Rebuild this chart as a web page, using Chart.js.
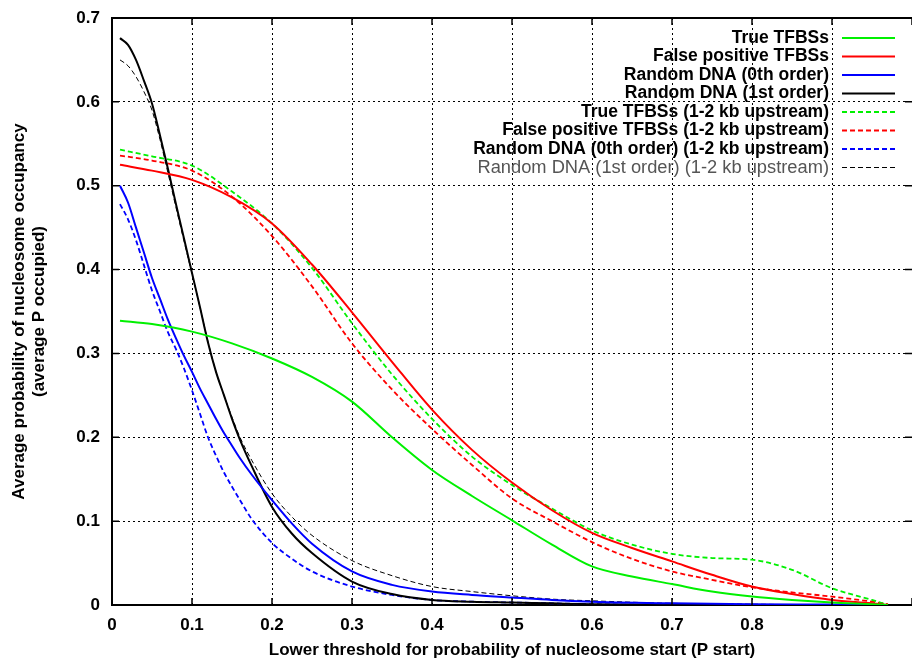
<!DOCTYPE html>
<html>
<head>
<meta charset="utf-8">
<title>Nucleosome occupancy vs P start threshold</title>
<script src="https://cdn.jsdelivr.net/npm/chart.js@4.4.1/dist/chart.umd.min.js"></script>
<style>
  html, body { margin: 0; padding: 0; background: #fff; }
</style>
</head>
<body>
<canvas id="chart" width="912" height="665"></canvas>
<script>
// ---- data ----
// threshold grid for the slowly falling curves
const xCoarse = [0.01, 0.05, 0.1, 0.15, 0.2, 0.25, 0.3, 0.35, 0.4, 0.45, 0.5,
                 0.55, 0.6, 0.65, 0.7, 0.75, 0.8, 0.85, 0.9, 0.95, 0.97];
// finer grid for the steep random DNA curves
const xFine = [0.01, 0.02, 0.03, 0.04, 0.05, 0.06, 0.07, 0.08, 0.09, 0.1, 0.11,
               0.12, 0.13, 0.14, 0.15, 0.16, 0.175, 0.2, 0.225, 0.25, 0.3, 0.35,
               0.4, 0.45, 0.5, 0.55, 0.6, 0.7, 0.8, 0.9, 0.97];

const trueTfbs = [0.339, 0.335, 0.326, 0.312, 0.294, 0.272, 0.2425, 0.2, 0.161, 0.13, 0.101,
                  0.072, 0.046, 0.034, 0.025, 0.016, 0.01, 0.006, 0.003, 0.001, 0];
const falsePos = [0.525, 0.518, 0.507, 0.486, 0.455, 0.406, 0.349, 0.29, 0.233, 0.185, 0.146,
                  0.113, 0.086, 0.068, 0.052, 0.036, 0.022, 0.013, 0.006, 0.002, 0];
const randDna0 = [0.5, 0.48, 0.45, 0.42, 0.39, 0.365, 0.34, 0.318, 0.297, 0.278, 0.258,
                  0.24, 0.222, 0.205, 0.19, 0.175, 0.155, 0.125, 0.097, 0.073, 0.04, 0.024,
                  0.016, 0.012, 0.009, 0.006, 0.004, 0.002, 0.001, 0.0005, 0];
const randDna1 = [0.676, 0.668, 0.65, 0.625, 0.598, 0.56, 0.52, 0.478, 0.437, 0.396, 0.355,
                  0.313, 0.278, 0.25, 0.222, 0.197, 0.165, 0.117, 0.085, 0.062, 0.028, 0.013,
                  0.006, 0.004, 0.003, 0.002, 0.001, 0.0005, 0, 0, 0];
const trueTfbsUp = [0.543, 0.535, 0.524, 0.493, 0.455, 0.402, 0.336, 0.275, 0.222, 0.177, 0.143,
                    0.115, 0.089, 0.072, 0.061, 0.056, 0.054, 0.042, 0.02, 0.006, 0];
const falsePosUp = [0.536, 0.53, 0.518, 0.487, 0.44, 0.38, 0.312, 0.257, 0.21, 0.167, 0.127,
                    0.1, 0.075, 0.055, 0.04, 0.03, 0.021, 0.015, 0.01, 0.004, 0.001];
const randDna0Up = [0.478, 0.46, 0.435, 0.405, 0.375, 0.35, 0.325, 0.305, 0.282, 0.256, 0.228,
                    0.2, 0.178, 0.158, 0.141, 0.125, 0.102, 0.074, 0.055, 0.04, 0.022, 0.012,
                    0.006, 0.004, 0.003, 0.002, 0.001, 0, 0, 0, 0];
const randDna1Up = [0.65, 0.643, 0.63, 0.612, 0.59, 0.555, 0.515, 0.474, 0.434, 0.395, 0.355,
                    0.314, 0.278, 0.25, 0.224, 0.2, 0.172, 0.133, 0.105, 0.083, 0.053, 0.035,
                    0.022, 0.016, 0.011, 0.007, 0.005, 0.002, 0.001, 0, 0];

const seriesLabels = [
    'True TFBSs',
    'False positive TFBSs',
    'Random DNA (0th order)',
    'Random DNA (1st order)',
    'True TFBSs (1-2 kb upstream)',
    'False positive TFBSs (1-2 kb upstream)',
    'Random DNA (0th order) (1-2 kb upstream)',
    'Random DNA (1st order) (1-2 kb upstream)'
];
const xTickMax = 0.9;

const FONT = 'Liberation Sans, Arial, Helvetica, sans-serif';

function pts(xs, ys) {
    return xs.map((x, i) => ({ x: x, y: ys[i] }));
}

function line(label, xs, ys, color, dashed, width) {
    return {
        label: label,
        data: pts(xs, ys),
        borderColor: color,
        backgroundColor: color,
        borderWidth: width,
        borderDash: dashed ? [5, 3] : [],
        pointRadius: 0,
        cubicInterpolationMode: 'monotone',
        fill: false
    };
}

// legend drawn gnuplot-style: text right aligned, line sample on the right
const keyPlugin = {
    id: 'gnuplotKey',
    afterDatasetsDraw(chart) {
        const ctx = chart.ctx;
        ctx.save();
        chart.data.datasets.forEach((ds, i) => {
            const y = 38 + i * 18.5;
            const last = i === chart.data.datasets.length - 1;
            ctx.font = (last ? 'normal 18.3px ' : 'bold 17.5px ') + FONT;
            ctx.fillStyle = last ? '#555' : '#000';
            ctx.textAlign = 'right';
            ctx.textBaseline = 'middle';
            ctx.fillText(ds.label, 829, y);
            ctx.strokeStyle = ds.borderColor;
            ctx.lineWidth = ds.borderWidth;
            ctx.setLineDash(ds.borderDash);
            ctx.beginPath();
            ctx.moveTo(842, y);
            ctx.lineTo(895, y);
            ctx.stroke();
        });
        ctx.restore();
    }
};

// frame on top and inward tick marks on all sides
const framePlugin = {
    id: 'frame',
    afterDraw(chart) {
        const { ctx, chartArea: a, scales } = chart;
        ctx.save();
        ctx.strokeStyle = '#000';
        ctx.setLineDash([]);
        ctx.lineWidth = 2;
        ctx.beginPath();
        ctx.moveTo(a.left, a.top);
        ctx.lineTo(a.right, a.top);
        ctx.stroke();
        ctx.lineWidth = 1.5;
        ctx.beginPath();
        scales.x.ticks.forEach(t => {
            const px = scales.x.getPixelForValue(t.value);
            ctx.moveTo(px, a.bottom); ctx.lineTo(px, a.bottom - 7);
            ctx.moveTo(px, a.top); ctx.lineTo(px, a.top + 7);
        });
        scales.y.ticks.forEach(t => {
            const py = scales.y.getPixelForValue(t.value);
            ctx.moveTo(a.left, py); ctx.lineTo(a.left + 7, py);
            ctx.moveTo(a.right, py); ctx.lineTo(a.right - 7, py);
        });
        ctx.stroke();
        ctx.restore();
    }
};

const ctx = document.getElementById('chart').getContext('2d');
new Chart(ctx, {
    type: 'line',
    data: {
        datasets: [
            line(seriesLabels[0], xCoarse, trueTfbs, '#00f000', false, 2),
            line(seriesLabels[1], xCoarse, falsePos, '#ff0000', false, 2),
            line(seriesLabels[2], xFine, randDna0, '#0000ff', false, 2),
            line(seriesLabels[3], xFine, randDna1, '#000000', false, 2),
            line(seriesLabels[4], xCoarse, trueTfbsUp, '#00f000', true, 1.8),
            line(seriesLabels[5], xCoarse, falsePosUp, '#ff0000', true, 1.8),
            line(seriesLabels[6], xFine, randDna0Up, '#0000ff', true, 1.8),
            line(seriesLabels[7], xFine, randDna1Up, '#000000', true, 1)
        ]
    },
    options: {
        responsive: false,
        animation: false,
        devicePixelRatio: 1,
        layout: { padding: { top: 18, right: 0, left: 0, bottom: 0 } },
        plugins: {
            legend: { display: false },
            tooltip: { enabled: false }
        },
        scales: {
            x: {
                type: 'linear',
                min: 0,
                max: 1,
                afterFit: s => { s.height = 60; s.paddingRight = 0; s.paddingLeft = 0; },
                ticks: {
                    stepSize: 0.1,
                    autoSkip: false,
                    maxRotation: 0,
                    padding: 10,
                    color: '#000',
                    font: { family: FONT, size: 17, weight: 'bold' },
                    callback: v => (v > xTickMax + 1e-9 ? '' : String(Math.round(v * 10) / 10))
                },
                grid: { color: '#000', lineWidth: 1, drawTicks: false },
                border: { color: '#000', width: 2, dash: [2, 3] },
                title: {
                    display: true,
                    text: 'Lower threshold for probability of nucleosome start (P start)',
                    color: '#000',
                    padding: { top: 0, bottom: 4 },
                    font: { family: FONT, size: 17, weight: 'bold' }
                }
            },
            y: {
                min: 0,
                max: 0.7,
                afterFit: s => { s.width = 112; s.paddingTop = 0; s.paddingBottom = 0; },
                ticks: {
                    stepSize: 0.1,
                    padding: 12,
                    color: '#000',
                    font: { family: FONT, size: 17, weight: 'bold' },
                    callback: v => String(Math.round(v * 10) / 10)
                },
                grid: { color: '#000', lineWidth: 1, drawTicks: false },
                border: { color: '#000', width: 2, dash: [2, 3] },
                title: {
                    display: true,
                    text: ['Average probability of nucleosome occupancy', '(average P occupied)'],
                    color: '#000',
                    padding: { top: 10, bottom: 0 },
                    font: { family: FONT, size: 17, weight: 'bold', lineHeight: 1.15 }
                }
            }
        }
    },
    plugins: [keyPlugin, framePlugin]
});
</script>
</body>
</html>
